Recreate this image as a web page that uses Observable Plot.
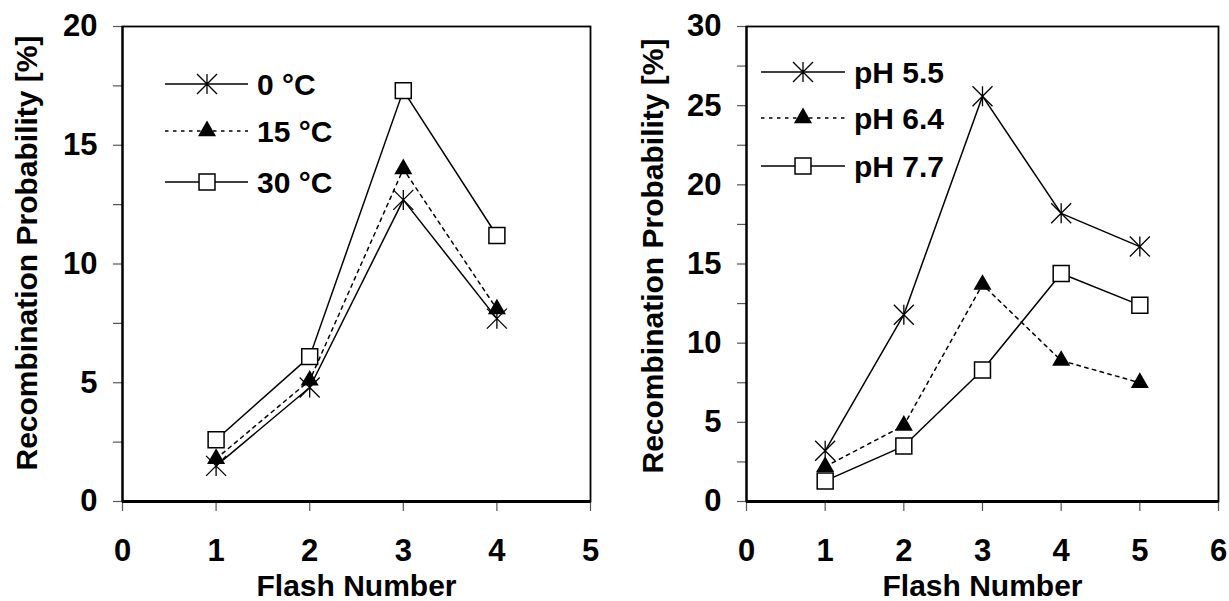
<!DOCTYPE html>
<html>
<head>
<meta charset="utf-8">
<script src="https://cdn.jsdelivr.net/npm/d3@7"></script>
<script src="https://cdn.jsdelivr.net/npm/@observablehq/plot@0.6"></script>
<style>
  html, body { margin: 0; padding: 0; background: #fff; }
  #wrap { position: relative; width: 1229px; height: 601px; overflow: hidden;
          font-family: "Liberation Sans", Arial, sans-serif; font-weight: bold; }
  .panel { position: absolute; top: 0; }
  #legend { position: absolute; top: 0; left: 0; pointer-events: none; }
</style>
</head>
<body>
<div id="wrap"></div>
<script>
// ---- Temperature series (left panel) ----
const flashesTemp = [1, 2, 3, 4];
const temp0C  = [1.5, 4.8, 12.7, 7.7];
const temp15C = [1.8, 5.1, 14.0, 8.1];
const temp30C = [2.6, 6.1, 17.3, 11.2];
const tempLabels = ["0 °C", "15 °C", "30 °C"];

// ---- pH series (right panel) ----
const flashesPH = [1, 2, 3, 4, 5];
const pH55 = [3.2, 11.8, 25.6, 18.2, 16.1];
const pH64 = [2.2, 4.8, 13.7, 8.9, 7.5];
const pH77 = [1.3, 3.5, 8.3, 14.4, 12.4];
const pHLabels = ["pH 5.5", "pH 6.4", "pH 7.7"];

const yTitle = "Recombination Probability [%]";
const xTitle = "Flash Number";
const FONT = '"Liberation Sans", Arial, sans-serif';

// Asterisk marker: an X with a vertical bar through it
const asteriskSymbol = {
  draw(ctx, size) {
    const h = Math.sqrt(size / Math.PI);
    ctx.moveTo(-h, -h); ctx.lineTo(h, h);
    ctx.moveTo(-h, h);  ctx.lineTo(h, -h);
    ctx.moveTo(0, -h);  ctx.lineTo(0, h);
  }
};

// Line and marker styles shared by both panels (series order: asterisk, triangle, square)
const styles = [
  {dash: null,      symbol: asteriskSymbol, r: 10,  fill: "none",  stroke: "black", sw: 1.3},
  {dash: "3.5,4.5", symbol: "triangle",     r: 6.7, fill: "black", stroke: "none",  sw: 0},
  {dash: null,      symbol: "square",       r: 9,   fill: "white", stroke: "black", sw: 1.5}
];

function buildRows(flashes, seriesValues, labels) {
  return seriesValues.map((vals, i) =>
    vals.map((v, j) => ({flash: flashes[j], value: v, series: labels[i], k: i})));
}

function panel({rows, xMax, yMax, width, marginLeft, marginRight, titleDx, titleDy, xTitleDy}) {
  const marks = [];
  // axes
  marks.push(Plot.axisX({
    ticks: d3.range(0, xMax + 1), tickSize: 10, tickPadding: 27,
    tickFormat: d => String(d),
    stroke: "#555", strokeWidth: 1.2, fill: "black", fontSize: 31, label: null
  }));
  marks.push(Plot.axisY({
    ticks: d3.range(0, yMax + 0.001, 2.5), tickSize: 9, tickPadding: 16,
    tickFormat: d => (d % 5 === 0 ? String(d) : ""),
    stroke: "#555", strokeWidth: 1.2, fill: "black", fontSize: 31, label: null
  }));
  // frame and axis lines
  marks.push(Plot.frame({stroke: "black", strokeWidth: 1.8}));
  marks.push(Plot.ruleY([0], {stroke: "black", strokeWidth: 2.8}));
  marks.push(Plot.ruleX([0], {stroke: "black", strokeWidth: 2.2}));
  // series lines
  rows.forEach((data, i) => {
    marks.push(Plot.line(data, {
      x: "flash", y: "value", stroke: "black", strokeWidth: 1.5,
      strokeDasharray: styles[i].dash || undefined
    }));
  });
  // series markers
  rows.forEach((data, i) => {
    const s = styles[i];
    marks.push(Plot.dot(data, {
      x: "flash", y: "value", symbol: s.symbol, r: s.r,
      fill: s.fill, stroke: s.stroke, strokeWidth: s.sw
    }));
  });
  // axis titles
  marks.push(Plot.text([yTitle], {
    text: d => d, frameAnchor: "left", textAnchor: "middle", lineAnchor: "middle",
    rotate: -90, dx: titleDx, dy: titleDy,
    fontSize: 30, fontWeight: "bold", fill: "black"
  }));
  marks.push(Plot.text([xTitle], {
    text: d => d, frameAnchor: "bottom", textAnchor: "middle", lineAnchor: "middle",
    dy: xTitleDy, fontSize: 30, fontWeight: "bold", fill: "black"
  }));
  return Plot.plot({
    width, height: 601,
    marginLeft, marginRight, marginTop: 26, marginBottom: 100,
    x: {domain: [0, xMax]},
    y: {domain: [0, yMax]},
    style: {fontFamily: FONT, fontWeight: "bold", color: "black", background: "transparent", overflow: "visible"},
    marks
  });
}

const wrap = document.getElementById("wrap");

const left = panel({
  rows: buildRows(flashesTemp, [temp0C, temp15C, temp30C], tempLabels),
  xMax: 5, yMax: 20, width: 614, marginLeft: 122, marginRight: 24,
  titleDx: -95, titleDy: -11, xTitleDy: 85
});
left.classList.add("panel");
left.style.left = "0px";
wrap.appendChild(left);

const right = panel({
  rows: buildRows(flashesPH, [pH55, pH64, pH77], pHLabels),
  xMax: 6, yMax: 30, width: 615, marginLeft: 132, marginRight: 11,
  titleDx: -93, titleDy: -8, xTitleDy: 85
});
right.classList.add("panel");
right.style.left = "614px";
wrap.appendChild(right);

// ---- Legends drawn inside each plot area ----
const svg = d3.select(wrap).append("svg")
  .attr("id", "legend").attr("width", 1229).attr("height", 601);

function drawLegend(labels, x0, x1, xm, xt, rowsY) {
  labels.forEach((label, i) => {
    const s = styles[i];
    const y = rowsY[i];
    const g = svg.append("g");
    g.append("line").attr("x1", x0).attr("x2", x1).attr("y1", y).attr("y2", y)
      .attr("stroke", "black").attr("stroke-width", 1.5)
      .attr("stroke-dasharray", s.dash);
    const sym = d3.symbol(s.symbol === "triangle" ? d3.symbolTriangle
                         : s.symbol === "square" ? d3.symbolSquare : s.symbol,
                         Math.PI * s.r * s.r);
    g.append("path").attr("d", sym()).attr("transform", `translate(${xm},${y})`)
      .attr("fill", s.fill).attr("stroke", s.stroke).attr("stroke-width", s.sw);
    g.append("text").attr("x", xt).attr("y", y).attr("dy", "0.35em")
      .attr("font-family", FONT).attr("font-weight", "bold").attr("font-size", 30)
      .attr("fill", "black").text(label);
  });
}

drawLegend(tempLabels, 165, 248, 207, 257, [84, 131, 182]);
drawLegend(pHLabels, 761, 845, 803, 854, [72, 118, 166]);
</script>
</body>
</html>
